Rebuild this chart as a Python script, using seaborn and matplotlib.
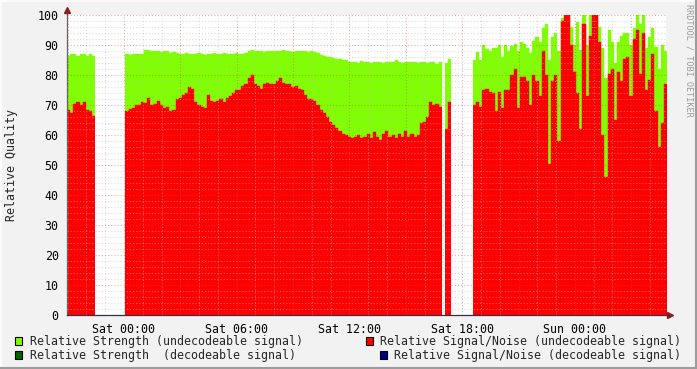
import numpy as np
import pandas as pd
import matplotlib
matplotlib.use("Agg")
import matplotlib.pyplot as plt
import seaborn as sns
from matplotlib.ticker import FixedLocator, MultipleLocator, FuncFormatter
from matplotlib.patches import Rectangle
from matplotlib.lines import Line2D

# ---------------- data (hours relative to Sat 00:00, 10-minute samples) -------------
STEP_H = 1 / 6
seg_start_h = [-3.03, 0.08, 17.08, 18.57]

strength_a = [86.5, 87, 87, 86.5, 87, 87, 86.5, 87, 86.5]
snr_a = [68.5, 67.5, 70.5, 71, 70, 71, 68.5, 68, 66.5]

strength_b = [87, 86.8, 87, 87, 87, 87, 88.5,
              88.2, 88, 88, 88, 87.8, 88, 88, 87.5, 87.6,
              87.2, 87, 87, 87.2, 87, 87, 87, 87.2, 87, 86.6, 87, 87, 87.2, 87,
              87, 87.2, 87, 87, 87, 87.2, 87, 87, 87.2,
              88, 88.2, 88, 88, 88, 87.8, 88, 88, 88, 88, 88, 88.2, 88, 88, 87.8, 88,
              88, 88, 88, 87.6, 88, 87.8, 87.5,
              86.7, 86.3, 86, 86, 85.8, 85.5, 85.5, 85, 85,
              84.5, 84.2, 84.4, 84, 84.6, 84.2, 84.3, 84, 84.5, 84.2, 84.4, 84, 84.5,
              84.2, 84.4, 85, 84.2, 84, 84.4, 84.2, 84.5, 84.4, 84, 84.2, 84.4, 84,
              84.5, 84.2, 83.8, 84.2]
snr_b = [68, 68.7, 69, 70, 70, 71, 70.8, 72.3, 70, 70.5,
         71.5, 70, 69, 69.5, 68, 68.3, 72, 72.5, 73.5, 74,
         76, 75.5, 71, 70, 69.5, 69, 73.5, 71.5, 71, 71.5,
         72, 71, 72.5, 73, 74, 75, 75, 76.5, 77, 79,
         80, 77, 76.5, 75.5, 77, 77.5, 77, 77, 78, 79,
         77.5, 77, 77, 76, 76.5, 75.5, 75, 73.5, 72, 72,
         71.5, 70, 68.5, 67.5, 66, 64.5, 63.5, 62.5, 61.5, 60.5,
         60, 59.5, 59, 59.5, 60, 59, 59.5, 60.5, 59, 61,
         59.5, 58.5, 60.5, 61.5, 59.5, 60, 59, 60.5, 59.5, 61.5,
         59.5, 60.5, 59.5, 60, 64, 64.5, 66, 71, 70, 70.5, 69.5]

strength_c = [84, 85.5]
snr_c = [62, 71]

strength_d = [85, 87.8, 85, 90, 88.6, 88, 89, 89, 90, 86,
              90, 88, 89.7, 90.5, 88, 91, 90.5, 89, 87.5, 91.5,
              92.8, 91, 95.6, 97, 85, 92.8, 94, 88, 99, 100,
              100, 96, 90, 97.8, 88.3, 100, 90, 100, 100, 100,
              96, 89, 79, 95, 91, 84, 91, 93, 94, 94,
              90, 95.6, 100, 97, 100, 89, 92.6, 95.6, 89.4, 82,
              90, 88]
snr_d = [70, 71, 69.5, 75, 75.5, 74.5, 74, 68, 74.5, 69,
         75, 75, 80, 82, 69, 79.5, 79.5, 78, 70, 80,
         78, 73, 88, 80, 50.5, 78, 80, 58, 98, 100,
         100, 90, 81, 74, 62, 97, 73, 93, 100, 100,
         91, 60, 46, 80.5, 82, 65, 81, 78, 85.5, 86,
         73, 92, 95, 80.5, 94, 75, 78.3, 87, 68, 56,
         64, 77]

segments = [(seg_start_h[0], strength_a, snr_a),
            (seg_start_h[1], strength_b, snr_b),
            (seg_start_h[2], strength_c, snr_c),
            (seg_start_h[3], strength_d, snr_d)]

tick_hours = [0, 6, 12, 18, 24]
tick_labels = ["Sat 00:00", "Sat 06:00", "Sat 12:00", "Sat 18:00", "Sun 00:00"]

legend_left = ["Relative Strength (undecodeable signal)",
               "Relative Strength  (decodeable signal)"]
legend_right = ["Relative Signal/Noise (undecodeable signal)",
                "Relative Signal/Noise (decodeable signal)"]

# ---------------- style ----------------
GREEN = "#7FFF00"
RED = "#FF0000"
DKGREEN = "#006400"
NAVY = "#000080"
BG = "#F2F2F2"
FS = 8.42

sns.set_style("white")
plt.rcParams['font.family'] = ['DejaVu Sans Mono', 'DejaVu Sans']

W, H = 697, 369
fig = plt.figure(figsize=(W / 100, H / 100), dpi=100, facecolor=BG)
L, R, T, B = 67, 666, 15, 315
ax = fig.add_axes([L / W, 1 - B / H, (R - L) / W, (B - T) / H])
ax.set_facecolor("white")


def fx(px):
    return px / W


def fy(py):
    return 1 - py / H


for start, strength, snr in segments:
    n = len(strength)
    hrs = start + np.arange(n + 1) * STEP_H
    df = pd.DataFrame({"hour": hrs,
                       "strength": list(strength) + [strength[-1]],
                       "snr": list(snr) + [snr[-1]]})
    ax.fill_between(df["hour"], 0, df["strength"], step="post", color=GREEN,
                    lw=0, zorder=1)
    ax.fill_between(df["hour"], 0, df["snr"], step="post", color=RED,
                    lw=0, zorder=1.1)
    sns.lineplot(data=df, x="hour", y="strength", drawstyle="steps-post",
                 color=GREEN, lw=0.3, ax=ax, estimator=None, zorder=1.05)
    sns.lineplot(data=df, x="hour", y="snr", drawstyle="steps-post",
                 color=RED, lw=0.3, ax=ax, estimator=None, zorder=1.15)

XMIN, XMAX = -3.03, 28.85
ax.set_xlim(XMIN, XMAX)
ax.set_ylim(0, 100)
ax.set_xlabel("")
ax.set_ylabel("")

ax.xaxis.set_major_locator(FixedLocator(np.arange(-3, 29, 3)))
ax.xaxis.set_minor_locator(MultipleLocator(1))
lab = dict(zip(tick_hours, tick_labels))
ax.xaxis.set_major_formatter(FuncFormatter(lambda v, p: lab.get(int(round(v)), "")))
ax.yaxis.set_major_locator(MultipleLocator(10))
ax.yaxis.set_minor_locator(MultipleLocator(2))

ax.set_axisbelow(False)
ax.grid(which="minor", color="#C0C0C0", alpha=0.6, ls=(0, (1, 2)), lw=0.75)
ax.grid(which="major", color="#D05050", alpha=0.5, ls=(0, (1, 2)), lw=0.75)

ax.tick_params(axis="both", which="major", labelsize=FS, colors="#000000")
ax.tick_params(axis="x", which="major", length=3, width=0.8, color="#D08080", pad=3)
ax.tick_params(axis="x", which="minor", length=2, width=0.6, color="#C0C0C0")
ax.tick_params(axis="y", which="major", length=2, width=0.8, color="#D08080", pad=4)
ax.tick_params(axis="y", which="minor", length=0)

for s in ["top", "right"]:
    ax.spines[s].set_visible(False)
ax.spines["left"].set_color("#606060")
ax.spines["bottom"].set_color("#303050")
ax.spines["left"].set_linewidth(0.9)
ax.spines["bottom"].set_linewidth(0.9)

# axis arrows
ARROW = "#802020"
ax.plot([XMIN, XMIN], [100, 102.4], color="#606060", lw=0.9, clip_on=False, zorder=3)
ax.plot([XMIN], [101.7], marker="^", ms=4.5, color=ARROW, clip_on=False, zorder=4)
ax.plot([XMAX, XMAX + 0.2], [0, 0], color="#303050", lw=0.9, clip_on=False, zorder=3)
ax.plot([XMAX + 0.22], [0], marker=">", ms=4.5, color=ARROW, clip_on=False, zorder=4)

# y label and watermark
fig.text(fx(12), fy(165), "Relative Quality", rotation=90, ha="center", va="center",
         fontsize=FS)
fig.text(fx(688.5), fy(4), "RRDTOOL / TOBI OETIKER", rotation=270, ha="center",
         va="top", fontsize=6.1, color="#9A9A9A")

# legend
def box(x, y, color):
    fig.add_artist(Rectangle((fx(x), fy(y + 8)), 7 / W, 8 / H, transform=fig.transFigure,
                             facecolor=color, edgecolor="black", lw=0.8))

box(15, 337, GREEN)
box(15, 350.5, DKGREEN)
box(365.5, 337, RED)
box(379.5, 350.5, NAVY)
fig.text(fx(30), fy(341.5), legend_left[0], ha="left", va="center", fontsize=FS)
fig.text(fx(30), fy(355), legend_left[1], ha="left", va="center", fontsize=FS)
fig.text(fx(380), fy(341.5), legend_right[0], ha="left", va="center", fontsize=FS)
fig.text(fx(394), fy(355), legend_right[1], ha="left", va="center", fontsize=FS)

# 3D-style frame
fig.add_artist(Line2D([0, 1], [fy(0.5), fy(0.5)], transform=fig.transFigure, color="#FCFCFC", lw=1.5))
fig.add_artist(Line2D([fx(0.5), fx(0.5)], [0, 1], transform=fig.transFigure, color="#FCFCFC", lw=1.5))
fig.add_artist(Line2D([0, 1], [fy(368), fy(368)], transform=fig.transFigure, color="#9C9C9C", lw=1.5))
fig.add_artist(Line2D([fx(696), fx(696)], [0, 1], transform=fig.transFigure, color="#9C9C9C", lw=1.5))

fig.savefig("out.png", dpi=100, facecolor=BG)
